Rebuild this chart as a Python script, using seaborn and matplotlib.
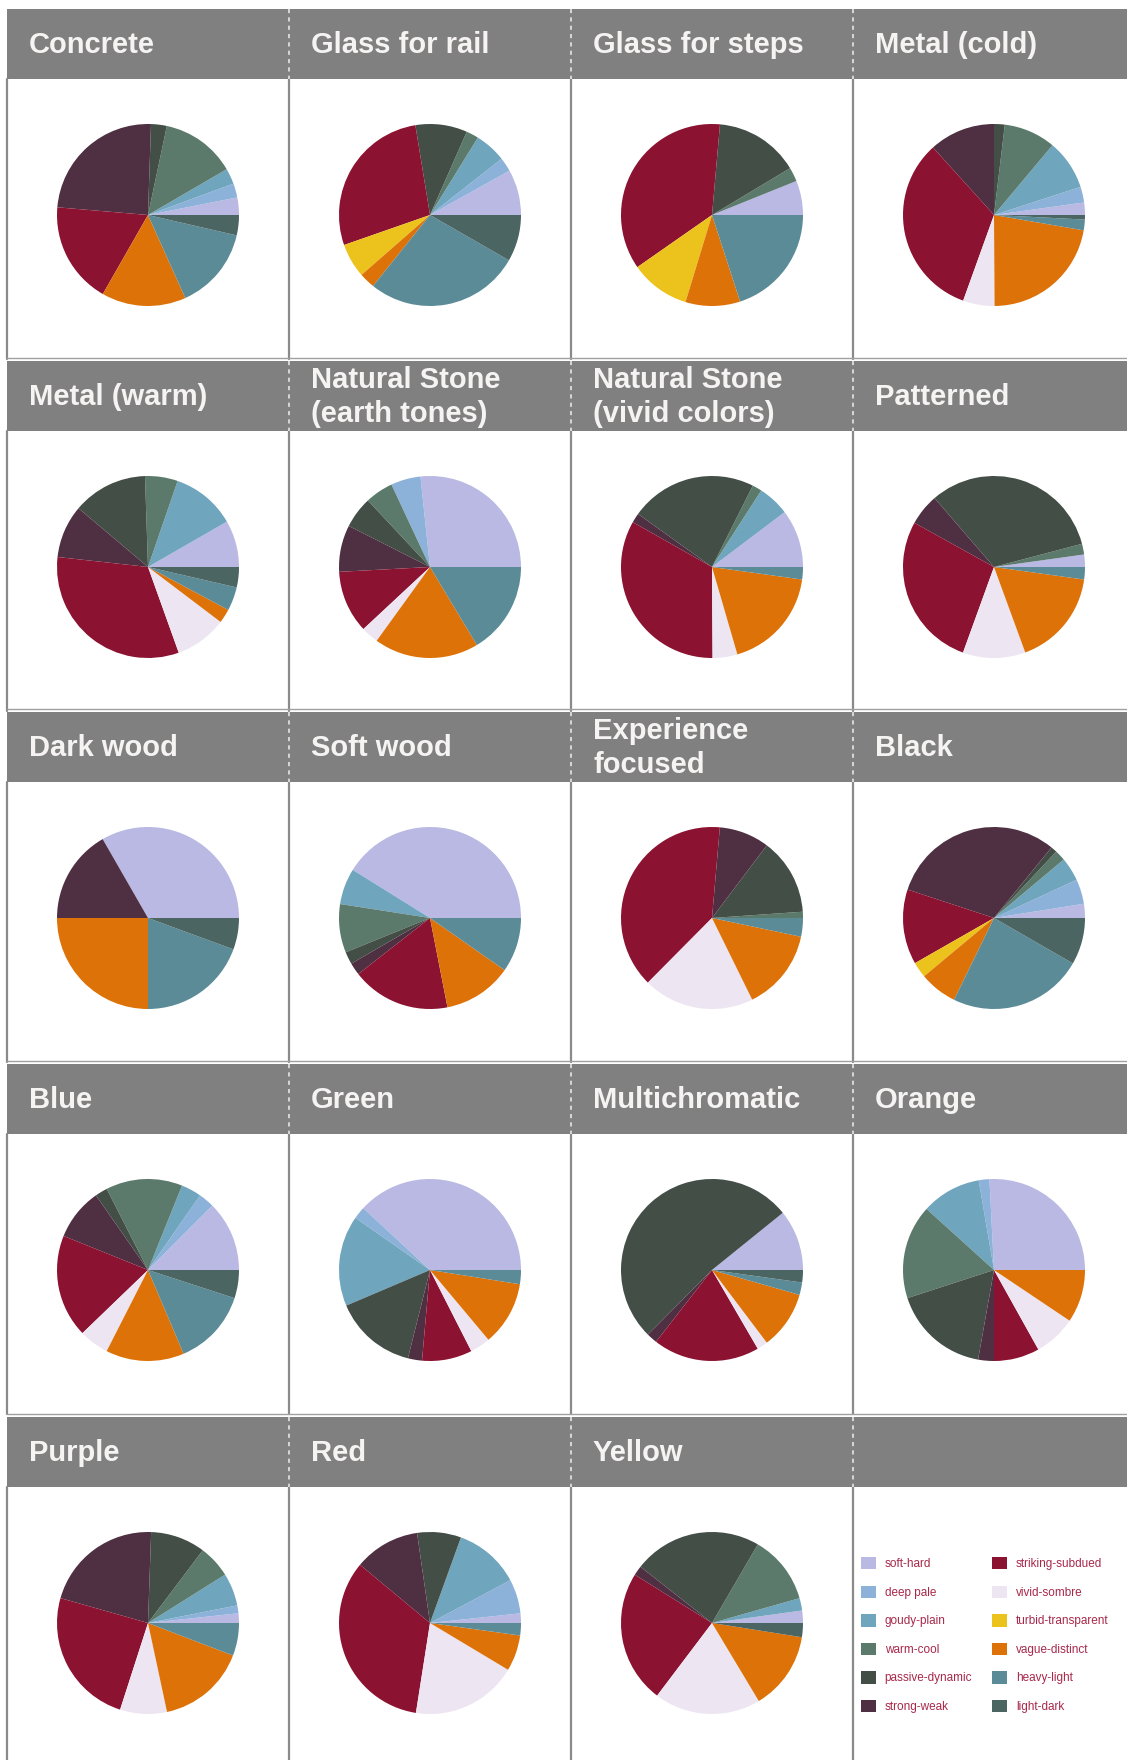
import matplotlib
matplotlib.use("Agg")
import matplotlib.pyplot as plt
import matplotlib.patches as mpatches
import seaborn as sns

# categories, in drawing order (counter-clockwise from 3 o'clock)
categories = ["soft-hard", "deep pale", "goudy-plain", "warm-cool", "passive-dynamic",
              "strong-weak", "striking-subdued", "vivid-sombre", "turbid-transparent",
              "vague-distinct", "heavy-light", "light-dark"]
cat_colors = ["#b9b9e3", "#8db2d9", "#6fa5bd", "#5b7a6b", "#434e46", "#4f3042",
              "#8b1230", "#ede5f1", "#ecc31c", "#dd7208", "#5a8b97", "#4b6563"]

titles = ["Concrete", "Glass for rail", "Glass for steps", "Metal (cold)",
          "Metal (warm)", "Natural Stone\n(earth tones)", "Natural Stone\n(vivid colors)", "Patterned",
          "Dark wood", "Soft wood", "Experience\nfocused", "Black",
          "Blue", "Green", "Multichromatic", "Orange",
          "Purple", "Red", "Yellow"]

# shares (%) per material, same order as categories
concrete = [3.1, 2.5, 2.8, 13.3, 2.8, 24.2, 18.1, 0, 0, 15.0, 14.7, 3.6]
glass_rail = [8.1, 2.5, 5.6, 2.2, 9.2, 0, 27.8, 0, 6.1, 2.8, 27.5, 8.3]
glass_steps = [6.1, 0, 0, 2.5, 15.0, 0, 36.1, 0, 10.6, 9.7, 20.0, 0]
metal_cold = [2.2, 2.8, 8.9, 9.2, 1.9, 11.7, 32.8, 5.6, 0, 22.2, 1.9, 0.8]
metal_warm = [8.3, 0, 11.4, 5.8, 13.3, 9.4, 32.2, 9.2, 0, 2.5, 4.2, 3.6]
stone_earth = [26.7, 5.3, 0, 5.0, 5.6, 8.3, 11.1, 3.1, 0, 18.6, 16.4, 0]
stone_vivid = [10.3, 0, 5.6, 1.7, 22.5, 1.7, 33.3, 4.4, 0, 18.3, 2.2, 0]
patterned = [2.2, 0, 0, 1.9, 32.2, 5.6, 27.5, 11.1, 0, 17.2, 2.2, 0]
dark_wood = [33.3, 0, 0, 0, 0, 16.7, 0, 0, 0, 25.0, 19.4, 5.6]
soft_wood = [41.1, 0, 6.4, 8.6, 2.2, 2.2, 17.5, 0, 0, 12.2, 9.7, 0]
experience = [0, 0, 0, 1.1, 13.6, 8.9, 38.9, 19.7, 0, 14.4, 3.3, 0]
black = [2.5, 4.4, 4.2, 1.9, 1.1, 30.8, 13.3, 0, 2.8, 6.7, 23.9, 8.3]
blue = [12.5, 2.8, 3.6, 13.6, 2.2, 9.2, 18.3, 5.3, 0, 13.9, 13.6, 5.0]
green = [38.1, 2.2, 16.1, 0, 14.7, 2.5, 8.9, 3.6, 0, 11.4, 2.5, 0]
multichromatic = [10.8, 0, 0, 0, 51.7, 1.9, 18.9, 1.9, 0, 10.3, 2.2, 2.2]
orange = [25.8, 1.9, 10.6, 16.7, 17.2, 2.8, 8.1, 7.5, 0, 9.4, 0, 0]
purple = [1.7, 1.4, 5.8, 5.8, 9.7, 21.1, 24.4, 8.3, 0, 15.8, 5.8, 0]
red = [1.7, 6.1, 11.7, 0, 7.8, 11.7, 33.6, 18.9, 0, 6.4, 2.2, 0]
yellow = [2.2, 0, 2.2, 12.2, 22.8, 1.7, 23.6, 18.9, 0, 13.9, 0, 2.5]

series = [concrete, glass_rail, glass_steps, metal_cold,
          metal_warm, stone_earth, stone_vivid, patterned,
          dark_wood, soft_wood, experience, black,
          blue, green, multichromatic, orange,
          purple, red, yellow]

sns.set_theme(style="white")
plt.rcParams["font.family"] = ["Liberation Sans", "DejaVu Sans"]
palette = sns.color_palette(cat_colors)

W, H = 1127, 1760
fig = plt.figure(figsize=(W / 100, H / 100), dpi=100)
fig.patch.set_facecolor("white")

# background layer in pixel coordinates
bg = fig.add_axes([0, 0, 1, 1])
bg.set_xlim(0, W)
bg.set_ylim(H, 0)
bg.axis("off")

col_x = [7, 289, 571, 853]
row_y = [9, 361, 712, 1064, 1417]
head_h = 70
grey = "#808080"

for r, y in enumerate(row_y):
    bg.add_patch(mpatches.Rectangle((7, y), W - 7, head_h, facecolor=grey, edgecolor="none"))
    bottom = min(y + 350, H)
    if r > 0:
        bg.plot([7, W], [y - 2.5, y - 2.5], color="#a0a0a0", lw=1)
    for x in col_x:
        bg.plot([x, x], [y + head_h, bottom], color="#8a8a8a", lw=1.6)
        if x > 7:
            bg.plot([x, x], [y, y + head_h], color="#e6e6e6", lw=1.2, dashes=(2.5, 2.5))

for i, (title, vals) in enumerate(zip(titles, series)):
    r, c = divmod(i, 4)
    x0, y0 = col_x[c], row_y[r]
    bg.text(x0 + 22, y0 + 36, title, ha="left", va="center", color="#f6f3f3",
            fontsize=21, fontweight="bold", linespacing=1.3)

    cx, cy, rad = x0 + 141, y0 + head_h + 136, 91
    ax = fig.add_axes([(cx - rad) / W, 1 - (cy + rad) / H, 2 * rad / W, 2 * rad / H])
    ax.pie(vals, colors=palette, startangle=0, counterclock=True,
           wedgeprops=dict(linewidth=0))
    ax.set_xlim(-1, 1)
    ax.set_ylim(-1, 1)
    ax.axis("off")

handles = [mpatches.Patch(facecolor=col, edgecolor="none") for col in palette]
fig.legend(handles, categories, ncol=2, loc="upper left",
           bbox_to_anchor=(861 / W, 1 - 1557 / H), frameon=False,
           fontsize=8.5, labelcolor="#a8284a", handlelength=1.25, handleheight=1.25,
           handletextpad=0.75, labelspacing=1.3, columnspacing=1.7,
           borderpad=0, borderaxespad=0)

fig.savefig("out.png", dpi=100, facecolor="white")
